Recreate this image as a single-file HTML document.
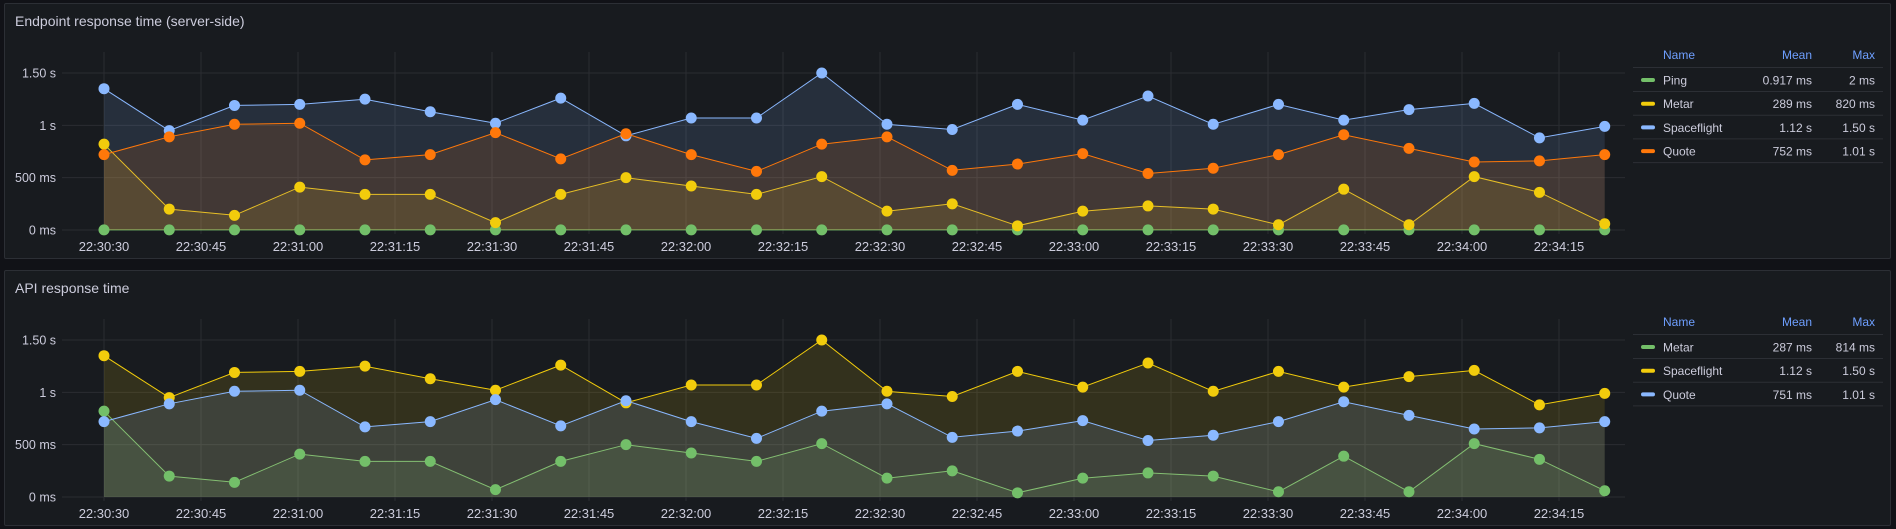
<!DOCTYPE html>
<html><head><meta charset="utf-8">
<style>
html,body{margin:0;padding:0;background:#111217;width:1896px;height:529px;overflow:hidden;font-family:"Liberation Sans",sans-serif;}
.panel{position:absolute;left:4px;width:1887px;height:256px;background:#181b1f;border:1px solid #2c2f35;border-radius:2px;box-sizing:border-box;}
.title{position:absolute;left:10px;top:9px;font-size:14px;color:#ccccdc;}
svg{position:absolute;left:0;top:0;}
</style></head><body>
<div class="panel" style="top:3px">
<div class="title">Endpoint response time (server-side)</div>
</div>
<div class="panel" style="top:270px">
<div class="title">API response time</div>
</div>
<svg id="chart" width="1896" height="529"></svg>
<script>
const timeLabels=["22:30:30","22:30:45","22:31:00","22:31:15","22:31:30","22:31:45","22:32:00","22:32:15","22:32:30","22:32:45","22:33:00","22:33:15","22:33:30","22:33:45","22:34:00","22:34:15"];
const yTicks=[0,0.5,1,1.5];
const yTickLabels=["0 ms","500 ms","1 s","1.50 s"];
const spaceflight=[1.35,0.95,1.19,1.20,1.25,1.13,1.02,1.26,0.90,1.07,1.07,1.50,1.01,0.96,1.20,1.05,1.28,1.01,1.20,1.05,1.15,1.21,0.88,0.99];
const quote=[0.72,0.89,1.01,1.02,0.67,0.72,0.93,0.68,0.92,0.72,0.56,0.82,0.89,0.57,0.63,0.73,0.54,0.59,0.72,0.91,0.78,0.65,0.66,0.72];
const metar=[0.82,0.20,0.14,0.41,0.34,0.34,0.07,0.34,0.50,0.42,0.34,0.51,0.18,0.25,0.04,0.18,0.23,0.20,0.05,0.39,0.05,0.51,0.36,0.06];
const ping=[0.001,0.001,0.001,0.001,0.001,0.001,0.001,0.001,0.001,0.001,0.001,0.001,0.001,0.001,0.001,0.001,0.001,0.001,0.001,0.001,0.001,0.001,0.001,0.001];
const legend1Names=["Ping","Metar","Spaceflight","Quote"];
const legend1Mean=["0.917 ms","289 ms","1.12 s","752 ms"];
const legend1Max=["2 ms","820 ms","1.50 s","1.01 s"];
const legend2Names=["Metar","Spaceflight","Quote"];
const legend2Mean=["287 ms","1.12 s","751 ms"];
const legend2Max=["814 ms","1.50 s","1.01 s"];

const NS="http://www.w3.org/2000/svg";
const svg=document.getElementById('chart');
const C={green:"#73bf69",yellow:"#f2cc0c",blue:"#8ab8ff",orange:"#ff780a"};
function mk(tag,attrs,parent){const e=document.createElementNS(NS,tag);for(const k in attrs)e.setAttribute(k,attrs[k]);(parent||svg).appendChild(e);return e;}
const X0=104, PX_PER_SEC=97/15, STEP=10.09;
function xTime(sec){return X0+sec*PX_PER_SEC;}
function xIdx(i){return xTime(i*STEP);}

function drawPanel(off,series,names,means,maxs){
  const y=v=>off+230-v*(157/1.5);
  const g=mk('g',{});
  
  
  timeLabels.forEach((l,i)=>{
    const x=xTime(i*15);
    const ln=mk('line',{x1:x,x2:x,y1:off+52,y2:off+234,stroke:"#2a2d32","stroke-width":1},g);
    
    const t=mk('text',{x:x,y:off+251,"text-anchor":"middle",fill:"#ccccdc","font-size":"13"},g);
    t.textContent=l;
    
  });
  yTicks.forEach((v,i)=>{
    const ln=mk('line',{x1:62,x2:1625,y1:y(v),y2:y(v),stroke:"#2a2d32","stroke-width":1},g);
    
    const t=mk('text',{x:56,y:y(v)+4.5,"text-anchor":"end",fill:"#ccccdc","font-size":"12.5"},g);
    t.textContent=yTickLabels[i];
    
  });
  series.forEach(s=>{
    const pts=s.data.map((v,i)=>xIdx(i).toFixed(1)+","+y(v).toFixed(1));
    const area=mk('polygon',{points:xIdx(0)+","+y(0)+" "+pts.join(" ")+" "+xIdx(s.data.length-1)+","+y(0),fill:s.color,"fill-opacity":0.13},g);
    
    const pl=mk('polyline',{points:pts.join(" "),fill:"none",stroke:s.color,"stroke-width":1},g);
    
  });
  series.forEach(s=>{
    s.data.forEach((v,i)=>{
      const c=mk('circle',{cx:xIdx(i),cy:y(v),r:5.5,fill:s.color},g);
      
    });
  });
  const lg=mk('g',{},svg);
  
  const hy=off+59;
  [["Name",1663,"start"],["Mean",1812,"end"],["Max",1875,"end"]].forEach(h=>{
    const t=mk('text',{x:h[1],y:hy,"text-anchor":h[2],fill:"#6e9fff","font-size":"12"},lg);t.textContent=h[0];
    
  });
  mk('line',{x1:1633,x2:1883,y1:off+67.5,y2:off+67.5,stroke:"#2c2f35"},lg);
  names.forEach((n,i)=>{
    const ry=off+80+i*23.7;
    const row=mk('g',{},lg);
    
    mk('rect',{x:1641,y:ry-2,width:14,height:4,rx:2,fill:series[i].color},row);
    const a=mk('text',{x:1663,y:ry+4.5,fill:"#ccccdc","font-size":"12"},row);a.textContent=n;
    const b=mk('text',{x:1812,y:ry+4.5,"text-anchor":"end",fill:"#ccccdc","font-size":"12"},row);b.textContent=means[i];
    const c=mk('text',{x:1875,y:ry+4.5,"text-anchor":"end",fill:"#ccccdc","font-size":"12"},row);c.textContent=maxs[i];
    mk('line',{x1:1633,x2:1883,y1:ry+11.5,y2:ry+11.5,stroke:"#2c2f35"},row);
  });
}
drawPanel(0,[{name:"Ping",data:ping,color:C.green},{name:"Metar",data:metar,color:C.yellow},{name:"Spaceflight",data:spaceflight,color:C.blue},{name:"Quote",data:quote,color:C.orange}],legend1Names,legend1Mean,legend1Max);
drawPanel(267,[{name:"Metar",data:metar,color:C.green},{name:"Spaceflight",data:spaceflight,color:C.yellow},{name:"Quote",data:quote,color:C.blue}],legend2Names,legend2Mean,legend2Max);
</script>
</body></html>
